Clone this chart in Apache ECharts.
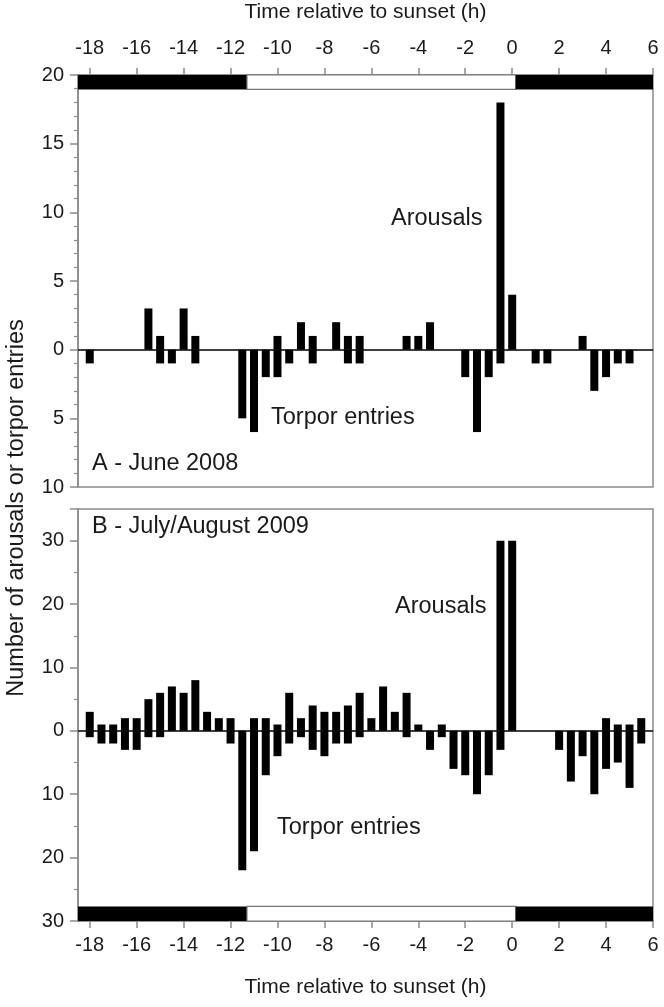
<!DOCTYPE html>
<html>
<head>
<meta charset="utf-8">
<script src="https://cdn.jsdelivr.net/npm/echarts@6/dist/echarts.min.js"></script>
<style>
  html, body { margin: 0; padding: 0; background: #fff; }
  #main { width: 664px; height: 1007px; }
</style>
</head>
<body>
<div id="main"></div>
<script type="text/javascript">
  // half-hour bins, time relative to sunset (h)
  var hours = [-18, -17.5, -17, -16.5, -16, -15.5, -15, -14.5, -14, -13.5,
               -13, -12.5, -12, -11.5, -11, -10.5, -10, -9.5, -9, -8.5,
               -8, -7.5, -7, -6.5, -6, -5.5, -5, -4.5, -4, -3.5,
               -3, -2.5, -2, -1.5, -1, -0.5, 0, 0.5, 1, 1.5,
               2, 2.5, 3, 3.5, 4, 4.5, 5, 5.5];

  // A - June 2008
  var arousalsA = [0, 0, 0, 0, 0, 3, 1, 0, 3, 1,
                   0, 0, 0, 0, 0, 0, 1, 0, 2, 1,
                   0, 2, 1, 1, 0, 0, 0, 1, 1, 2,
                   0, 0, 0, 0, 0, 18, 4, 0, 0, 0,
                   0, 0, 1, 0, 0, 0, 0, 0];
  var torporA = [1, 0, 0, 0, 0, 0, 1, 1, 0, 1,
                 0, 0, 0, 5, 6, 2, 2, 1, 0, 1,
                 0, 0, 1, 1, 0, 0, 0, 0, 0, 0,
                 0, 0, 2, 6, 2, 1, 0, 0, 1, 1,
                 0, 0, 0, 3, 2, 1, 1, 0];

  // B - July/August 2009
  var arousalsB = [3, 1, 1, 2, 2, 5, 6, 7, 6, 8,
                   3, 2, 2, 0, 2, 2, 1, 6, 2, 4,
                   3, 3, 4, 6, 2, 7, 3, 6, 1, 0,
                   1, 0, 0, 0, 0, 30, 30, 0, 0, 0,
                   0, 0, 0, 0, 2, 1, 1, 2];
  var torporB = [1, 2, 2, 3, 3, 1, 1, 0, 0, 0,
                 0, 0, 2, 22, 19, 7, 4, 2, 1, 3,
                 4, 2, 2, 1, 0, 0, 0, 1, 0, 3,
                 1, 6, 7, 10, 7, 3, 0, 0, 0, 0,
                 3, 8, 4, 10, 6, 5, 9, 2];

  var xTicks = [-18, -16, -14, -12, -10, -8, -6, -4, -2, 0, 2, 4, 6];
  var xMin = -18.5, xMax = 6;
  // light phase (white part of the bar)
  var dayStart = -11.3, dayEnd = 0.15;

  var FONT = 'Liberation Sans, Arial, sans-serif';
  var GREY = '#8a8a8a';
  var INK = '#1a1a1a';

  function lightBar(y0, y1) {
    return [
      [{ xAxis: xMin, yAxis: y0, itemStyle: { color: '#000', borderColor: '#000' } }, { xAxis: dayStart, yAxis: y1 }],
      [{ xAxis: dayStart, yAxis: y0, itemStyle: { color: '#fff', borderColor: '#777', borderWidth: 1.2 } }, { xAxis: dayEnd, yAxis: y1 }],
      [{ xAxis: dayEnd, yAxis: y0, itemStyle: { color: '#000', borderColor: '#000' } }, { xAxis: xMax, yAxis: y1 }]
    ];
  }

  function xAxisCfg(grid, pos, margin, gap) {
    return {
      type: 'value', gridIndex: grid, position: pos,
      min: xMin, max: xMax,
      axisLine: { show: true, onZero: false, lineStyle: { color: GREY, width: 1.5 } },
      axisTick: { show: true, customValues: xTicks, length: 7, lineStyle: { color: GREY, width: 1.5 } },
      axisLabel: { customValues: xTicks, fontSize: 20, color: INK, fontFamily: FONT, margin: margin },
      splitLine: { show: false },
      name: 'Time relative to sunset (h)', nameLocation: 'middle', nameGap: gap,
      nameTextStyle: { fontSize: 21, color: INK, fontFamily: FONT }
    };
  }

  function yAxisCfg(grid, min, max, interval, minorSplit, showMax) {
    return {
      type: 'value', gridIndex: grid, min: min, max: max, interval: interval,
      axisLine: { show: true, onZero: false, lineStyle: { color: GREY, width: 1.5 } },
      axisTick: { show: true, length: 8, lineStyle: { color: GREY, width: 1.5 } },
      minorTick: { show: true, splitNumber: minorSplit, length: 4, lineStyle: { color: GREY, width: 1.2 } },
      axisLabel: {
        fontSize: 20, color: INK, fontFamily: FONT, margin: 14, showMaxLabel: showMax,
        formatter: function (v) { return Math.abs(v); }
      },
      splitLine: { show: false }
    };
  }

  function barSeries(xi, vals, sign, extra) {
    var s = {
      type: 'bar', xAxisIndex: xi, yAxisIndex: xi,
      data: hours.map(function (h, i) { return [h, sign * vals[i]]; }),
      barWidth: 8, barGap: '-100%',
      itemStyle: { color: '#000' },
      silent: true
    };
    for (var k in extra) s[k] = extra[k];
    return s;
  }

  var zeroLine = {
    silent: true, symbol: ['none', 'none'],
    label: { show: false },
    lineStyle: { color: '#000', width: 1.5, type: 'solid' },
    data: [{ yAxis: 0 }]
  };

  function note(txt, x, y) {
    return { type: 'text', x: x, y: y, style: { text: txt, font: '23.5px ' + FONT, fill: INK, verticalAlign: 'middle' } };
  }

  var myChart = echarts.init(document.getElementById('main'));
  var option = {
    backgroundColor: '#fff',
    animation: false,
    textStyle: { fontFamily: FONT },
    grid: [
      { left: 78, top: 75, width: 575, height: 412, show: true, borderColor: GREY, borderWidth: 1.5 },
      { left: 78, top: 509, width: 575, height: 412, show: true, borderColor: GREY, borderWidth: 1.5 }
    ],
    xAxis: [xAxisCfg(0, 'top', 17, 52), xAxisCfg(1, 'bottom', 14, 56)],
    yAxis: [yAxisCfg(0, -10, 20, 5, 5, true), yAxisCfg(1, -30, 35, 10, 2, false)],
    series: [
      barSeries(0, arousalsA, 1, { markArea: { silent: true, data: lightBar(18.95, 20) } }),
      barSeries(0, torporA, -1, { markLine: zeroLine }),
      barSeries(1, arousalsB, 1, { markArea: { silent: true, data: lightBar(-30, -27.7) } }),
      barSeries(1, torporB, -1, { markLine: zeroLine })
    ],
    graphic: [
      note('Arousals', 391, 219),
      note('Torpor entries', 271, 418),
      note('A - June 2008', 92, 464),
      note('B - July/August 2009', 92, 527),
      note('Arousals', 395, 607),
      note('Torpor entries', 277, 828),
      { type: 'text', x: 17, y: 508, rotation: Math.PI / 2,
        style: { text: 'Number of arousals or torpor entries', font: '23.5px ' + FONT, fill: INK, align: 'center', verticalAlign: 'middle' } }
    ]
  };
  myChart.setOption(option);
</script>
</body>
</html>
